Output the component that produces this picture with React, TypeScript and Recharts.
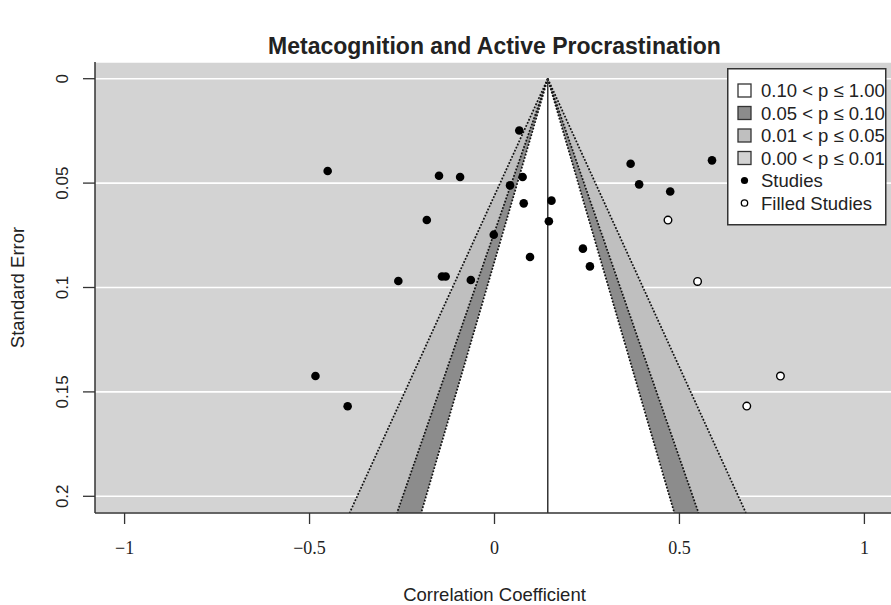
import React from 'react';
import {
  ComposedChart,
  Area,
  Scatter,
  XAxis,
  YAxis,
  CartesianGrid,
  ReferenceLine,
  Legend,
} from 'recharts';

// observed studies (correlation, standard error)
const studyR = [
  -0.451, -0.15, -0.093, -0.183, -0.26, -0.142, -0.132, -0.064, 0.067, 0.076, 0.042, 0.079,
  -0.002, 0.096, 0.154, 0.147, 0.239, 0.258, 0.368, 0.391, 0.475, 0.588, -0.484, -0.397,
];
const studySE = [
  0.0442, 0.0465, 0.0471, 0.0677, 0.0969, 0.0947, 0.0947, 0.0964, 0.0248, 0.0471, 0.0511, 0.0597,
  0.0747, 0.0854, 0.0584, 0.0683, 0.0814, 0.0899, 0.0407, 0.0506, 0.054, 0.0391, 0.1424, 0.1569,
];

// trim-and-fill imputed studies
const filledR = [0.469, 0.549, 0.773, 0.682];
const filledSE = [0.0677, 0.0971, 0.1424, 0.1568];

const xTicks = [-1, -0.5, 0, 0.5, 1];
const seTicks = [0, 0.05, 0.1, 0.15, 0.2];

const pooledR = 0.144;
const seBottom = 0.208;

// contour critical values: p = .01, .05, .10
const contourZ = [2.576, 1.96, 1.645];
const contourFill = ['#bfbfbf', '#8c8c8c', '#ffffff'];

const legendLabels = ['0.10 < p ≤ 1.00', '0.05 < p ≤ 0.10', '0.01 < p ≤ 0.05', '0.00 < p ≤ 0.01'];
const legendFills = ['#ffffff', '#8c8c8c', '#bfbfbf', '#d3d3d3'];

const textColor = '#222';

const studyRows = studyR.map((x, i) => ({ x, se: studySE[i] }));
const filledRows = filledR.map((x, i) => ({ x, se: filledSE[i] }));

// funnel triangles as range areas (se from contour edge down to the bottom)
const funnelX = [
  ...contourZ.map((z) => pooledR - z * seBottom),
  pooledR,
  ...[...contourZ].reverse().map((z) => pooledR + z * seBottom),
];
const funnelRows = funnelX.map((x) => {
  const row: Record<string, any> = { x };
  const d = Math.abs(x - pooledR);
  contourZ.forEach((z, i) => {
    row[`band${i}`] = d <= z * seBottom + 1e-9 ? [d / z, seBottom] : null;
  });
  return row;
});

const XTick = (props: any) => {
  const { x, y, payload } = props;
  const v = payload.value;
  const label = v < 0 ? '\u2212' + String(Math.abs(v)) : String(v);
  return (
    <text x={x} y={y + 28} textAnchor="middle" fontFamily="Liberation Serif" fontSize={18} fill={textColor}>
      {label}
    </text>
  );
};

const YTick = (props: any) => {
  const { x, y, payload } = props;
  const bx = x - 13;
  return (
    <text
      x={bx}
      y={y}
      transform={`rotate(-90, ${bx}, ${y})`}
      textAnchor="middle"
      fontFamily="Liberation Sans"
      fontSize={17}
      fill={textColor}
    >
      {String(payload.value)}
    </text>
  );
};

const YTitle = (props: any) => {
  const vb = props.viewBox;
  const cx = 23.5;
  const cy = vb.y + vb.height / 2;
  return (
    <text
      x={cx}
      y={cy}
      transform={`rotate(-90, ${cx}, ${cy})`}
      textAnchor="middle"
      fontFamily="Liberation Sans"
      fontSize={18.5}
      fill={textColor}
    >
      Standard Error
    </text>
  );
};

const XTitle = (props: any) => {
  const vb = props.viewBox;
  return (
    <text
      x={vb.x + vb.width / 2}
      y={601}
      textAnchor="middle"
      fontFamily="Liberation Sans"
      fontSize={18.5}
      fill={textColor}
    >
      Correlation Coefficient
    </text>
  );
};

const LegendBox = () => (
  <svg width={164} height={160} style={{ display: 'block', overflow: 'visible' }}>
    <rect x={0.75} y={0.75} width={158} height={156} fill="#fff" stroke="#333" strokeWidth={1.5} />
    {legendLabels.map((lab, i) => {
      const cy = 22.5 + i * 22.5;
      return (
        <g key={lab}>
          <rect x={11} y={cy - 6.5} width={13} height={13} fill={legendFills[i]} stroke="#333" strokeWidth={1.3} />
          <text x={34} y={cy + 6.6} fontFamily="Liberation Sans" fontSize={18.5} fill={textColor}>
            {lab}
          </text>
        </g>
      );
    })}
    <circle cx={17.5} cy={112.5} r={3.6} fill="#000" />
    <text x={34} y={119.1} fontFamily="Liberation Sans" fontSize={18.5} fill={textColor}>
      Studies
    </text>
    <circle cx={17.5} cy={135} r={3.2} fill="#fff" stroke="#000" strokeWidth={1.3} />
    <text x={34} y={141.6} fontFamily="Liberation Sans" fontSize={18.5} fill={textColor}>
      Filled Studies
    </text>
  </svg>
);

export default function App() {
  return (
    <div
      style={{
        position: 'absolute',
        left: 0,
        top: 0,
        width: 891,
        height: 605,
        overflow: 'hidden',
        background: '#fff',
      }}
    >
      <svg width={891} height={60} style={{ position: 'absolute', left: 0, top: 0 }}>
        <text
          x={494.5}
          y={54}
          textAnchor="middle"
          fontFamily="Liberation Sans"
          fontWeight="bold"
          fontSize={23}
          fill={textColor}
        >
          Metacognition and Active Procrastination
        </text>
      </svg>
      <ComposedChart
        width={900}
        height={605}
        data={funnelRows}
        margin={{ top: 62, right: 6, bottom: 4, left: 0 }}
      >
        <CartesianGrid vertical={false} fill="#d3d3d3" fillOpacity={1} stroke="#ffffff" strokeWidth={1.6} />
        <XAxis
          type="number"
          dataKey="x"
          domain={[-1.08, 1.08]}
          ticks={xTicks}
          allowDataOverflow
          interval={0}
          height={88}
          tickSize={11}
          axisLine={{ stroke: '#333', strokeWidth: 1.5 }}
          tickLine={{ stroke: '#333', strokeWidth: 1.3 }}
          tick={<XTick />}
          label={{ content: <XTitle /> }}
        />
        <YAxis
          type="number"
          dataKey="se"
          domain={[-0.008, 0.208]}
          reversed
          ticks={seTicks}
          allowDataOverflow
          interval={0}
          width={95}
          tickSize={12}
          axisLine={{ stroke: '#333', strokeWidth: 1.5 }}
          tickLine={{ stroke: '#333', strokeWidth: 1.3 }}
          tick={<YTick />}
          label={{ content: <YTitle /> }}
        />
        {contourZ.map((z, i) => (
          <Area
            key={`band${i}`}
            dataKey={`band${i}`}
            type="linear"
            fill={contourFill[i]}
            fillOpacity={1}
            stroke="none"
            dot={false}
            activeDot={false}
            isAnimationActive={false}
          />
        ))}
        {contourZ.flatMap((z) =>
          [-1, 1].map((side) => (
            <ReferenceLine
              key={`c${z}${side}`}
              segment={[
                { x: pooledR, y: 0 },
                { x: pooledR + side * z * seBottom, y: seBottom },
              ]}
              stroke="#111"
              strokeWidth={1.7}
              strokeDasharray="1.8 1.6"
              ifOverflow="visible"
            />
          ))
        )}
        <ReferenceLine
          segment={[
            { x: pooledR, y: 0 },
            { x: pooledR, y: seBottom },
          ]}
          stroke="#333"
          strokeWidth={1.5}
          ifOverflow="visible"
        />
        <Scatter
          data={studyRows}
          isAnimationActive={false}
          shape={(p: any) => <circle cx={p.cx} cy={p.cy} r={4.3} fill="#000" />}
        />
        <Scatter
          data={filledRows}
          isAnimationActive={false}
          shape={(p: any) => <circle cx={p.cx} cy={p.cy} r={3.8} fill="#fff" stroke="#000" strokeWidth={1.4} />}
        />
        <Legend
          layout="vertical"
          align="center"
          verticalAlign="middle"
          content={() => <LegendBox />}
          wrapperStyle={{ left: 727, top: 68, width: 164, height: 160 }}
        />
      </ComposedChart>
    </div>
  );
}
